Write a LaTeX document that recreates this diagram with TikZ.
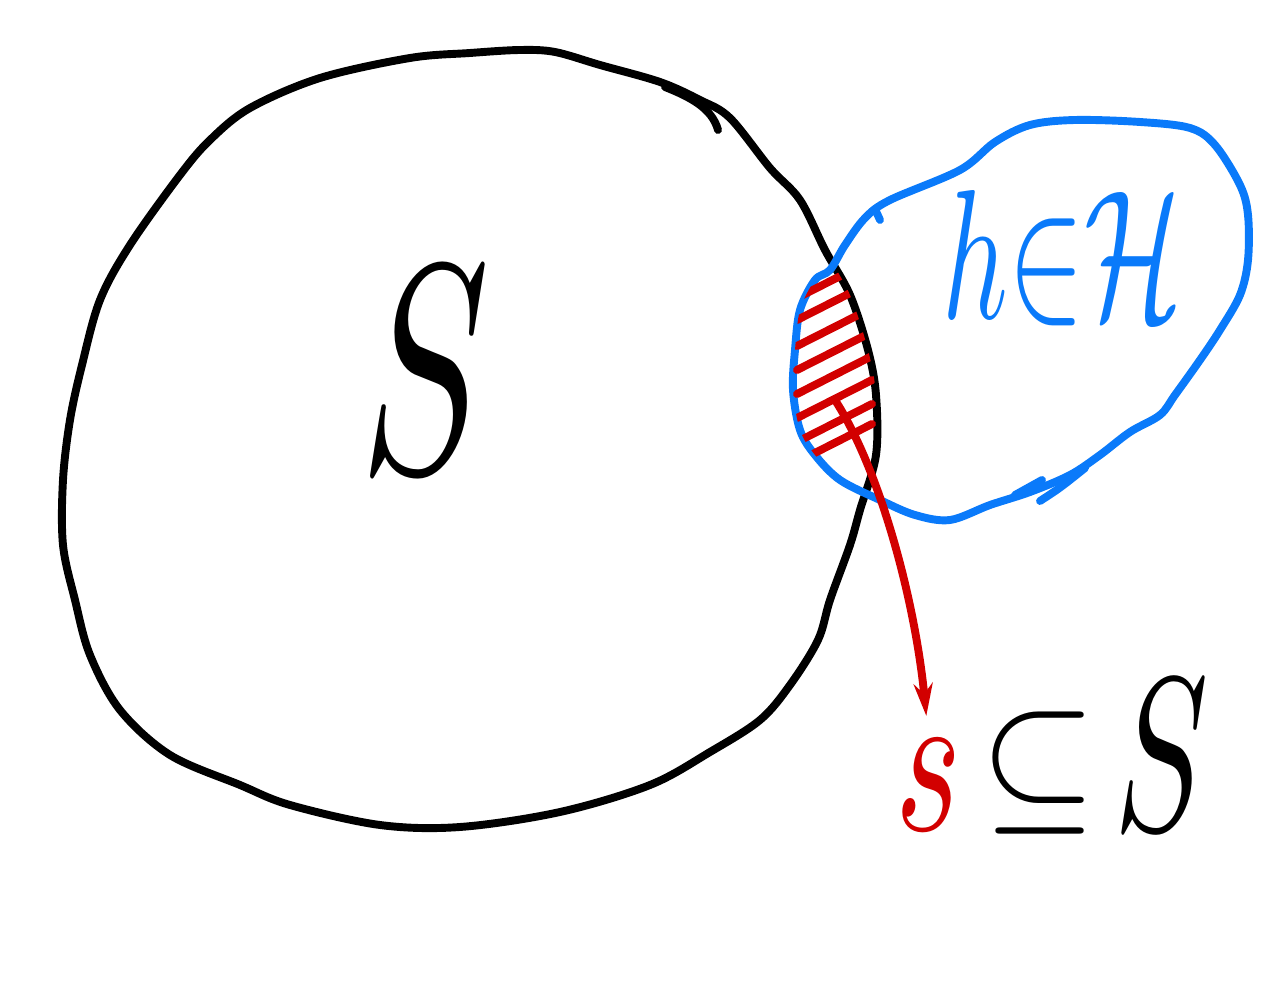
\documentclass[tikz,border=0pt]{standalone}
\usepackage{amsmath}
\usepackage{graphicx}
\usetikzlibrary{positioning,arrows.meta}

\definecolor{penblue}{RGB}{10,122,250}
\definecolor{penred}{RGB}{210,0,0}

\tikzset{
  pen/.style={line width=4.5pt, line cap=round, line join=round},
  hatch/.style={pen, penred},
  pointer/.style={pen, penred, -{Stealth[length=0.65cm,width=0.38cm]}}
}

\begin{document}
\begin{tikzpicture}[x=0.02cm, y=-0.02cm]

\useasboundingbox (0,0) rectangle (1288,999);

% Big set S (black blob)
\draw[pen] plot[smooth cycle, tension=0.55] coordinates {
  (520,50) (555,52) (600,65) (660,82) (700,100) (730,118) (770,168)
  (800,200) (825,250) (850,295) (868,350) (876,395) (876,455) (860,510)
  (850,545) (830,600) (818,640) (790,685) (760,720) (710,752) (650,785)
  (560,812) (460,827) (380,825) (290,805) (240,785) (170,755) (120,710)
  (90,655) (75,600) (63,545) (63,480) (70,420) (82,365) (100,300)
  (130,245) (180,175) (210,140) (250,108) (320,78) (410,58) (470,53)};
\draw[pen] (665,87) .. controls (690,97) and (712,108) .. (718,130);

% Set H (blue blob)
\draw[pen, penblue] plot[smooth cycle, tension=0.55] coordinates {
  (830,270) (845,245) (865,218) (890,200) (960,170) (995,142) (1030,125)
  (1075,120) (1140,122) (1190,128) (1215,145) (1240,185) (1248,215)
  (1248,260) (1240,295) (1220,330) (1200,360) (1175,395) (1160,415)
  (1130,432) (1100,455) (1070,475) (1030,492) (990,505) (950,520)
  (915,515) (880,500) (840,480) (815,455) (800,430) (793,390) (795,350)
  (800,310) (815,280)};
\draw[pen, penblue] (875,209) -- (880,220);
\draw[pen, penblue] (1015,495) -- (1042,480);
\draw[pen, penblue] (1040,501) .. controls (1060,488) .. (1085,468);

% Hatched overlap s
\begin{scope}
  \clip plot[smooth cycle, tension=0.55] coordinates {
    (520,50) (660,82) (730,118) (770,168) (800,200) (825,250) (850,295)
    (868,350) (876,395) (876,455) (860,510) (850,545) (830,600) (700,700)};
  \clip plot[smooth cycle, tension=0.55] coordinates {
    (830,270) (845,245) (865,218) (890,200) (960,170) (1000,300)
    (950,520) (915,515) (880,500) (840,480) (815,455) (800,430)
    (793,390) (795,350) (800,310) (815,280)};
  \foreach \y in {298,320,346,370,394,418,442,462}
    \draw[hatch] (797,\y) -- ++(75,-38);
\end{scope}

% Labels
\node (bigS) at (425,370) {\scalebox{11}[17]{$S$}};
\node[penblue] (hinH) at (1062,258) {\scalebox{6.5}[10.5]{$h{\in}\mathcal{H}$}};
\node[penred] (s) at (928,785) {\scalebox{8}[12]{$s$}};
\node[base right=0.15cm of s] (subS)
  {\raisebox{0.35cm}{\scalebox{8.5}[9]{$\subseteq$}}\hspace{0.35cm}\scalebox{8}[12.5]{$S$}};

% Pointer from overlap to s
\coordinate (lens) at (835,400);
\draw[pointer, shorten >=0.35cm] (lens) .. controls (880,470) and (915,600) .. (s.north);

\end{tikzpicture}
\end{document}
